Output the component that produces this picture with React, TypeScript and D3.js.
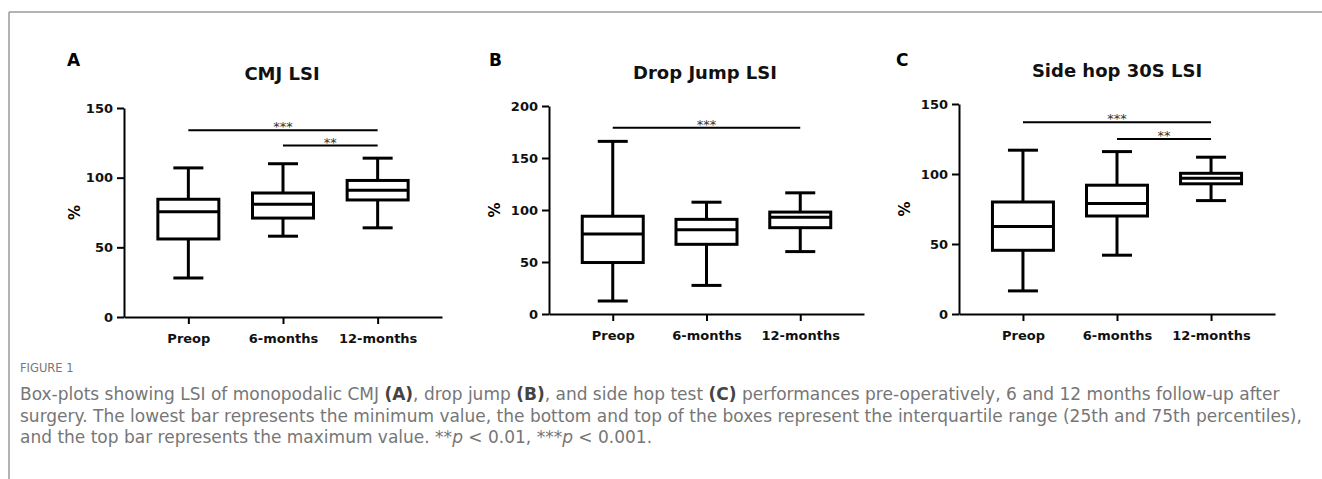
import React from 'react';
import * as d3 from 'd3';

const groups = ['Preop', '6-months', '12-months'];

// CMJ LSI (%)
const cmjMin = [28, 58, 64];
const cmjQ1 = [56, 71, 84];
const cmjMedian = [75.5, 81, 91];
const cmjQ3 = [84.5, 89, 98];
const cmjMax = [107, 110, 114];

// Drop jump LSI (%)
const dropMin = [12.5, 27.5, 60];
const dropQ1 = [49.5, 67, 83];
const dropMedian = [77, 81, 93];
const dropQ3 = [94, 91, 98];
const dropMax = [166, 107.5, 116.5];

// Side hop 30S LSI (%)
const hopMin = [16.5, 42, 81];
const hopQ1 = [45.5, 70, 93];
const hopMedian = [62.5, 79, 97];
const hopQ3 = [80, 92, 100.5];
const hopMax = [117, 116, 112];

type Sig = { from: number; to: number; value: number; label: string };

const cmjSig: Sig[] = [
  { from: 0, to: 2, value: 134, label: '***' },
  { from: 1, to: 2, value: 123, label: '**' },
];
const dropSig: Sig[] = [{ from: 0, to: 2, value: 179, label: '***' }];
const hopSig: Sig[] = [
  { from: 0, to: 2, value: 137, label: '***' },
  { from: 1, to: 2, value: 125, label: '**' },
];

type Panel = {
  letter: string;
  title: string;
  yMax: number;
  min: number[];
  q1: number[];
  median: number[];
  q3: number[];
  max: number[];
  sig: Sig[];
  // layout
  left: number;
  right: number;
  top: number;
  bottom: number;
  letterX: number;
  titleX: number;
  titleY: number;
  pctX: number;
};

const panels: Panel[] = [
  {
    letter: 'A', title: 'CMJ LSI', yMax: 150,
    min: cmjMin, q1: cmjQ1, median: cmjMedian, q3: cmjQ3, max: cmjMax, sig: cmjSig,
    left: 124, right: 442, top: 108, bottom: 317, letterX: 67, titleX: 282, titleY: 80, pctX: 75,
  },
  {
    letter: 'B', title: 'Drop Jump LSI', yMax: 200,
    min: dropMin, q1: dropQ1, median: dropMedian, q3: dropQ3, max: dropMax, sig: dropSig,
    left: 549, right: 864, top: 106, bottom: 314, letterX: 489, titleX: 705, titleY: 79, pctX: 495,
  },
  {
    letter: 'C', title: 'Side hop 30S LSI', yMax: 150,
    min: hopMin, q1: hopQ1, median: hopMedian, q3: hopQ3, max: hopMax, sig: hopSig,
    left: 959, right: 1275, top: 104, bottom: 314, letterX: 896, titleX: 1117, titleY: 77, pctX: 905,
  },
];

const FONT = '"DejaVu Sans", Arial, sans-serif';

function drawPanel(g: d3.Selection<SVGGElement, unknown, null, undefined>, p: Panel) {
  const y = d3.scaleLinear([0, p.yMax], [p.bottom, p.top]);
  const x = d3.scalePoint<string>(groups, [p.left, p.right]).padding(0.68);

  g.append('text')
    .attr('x', p.letterX)
    .attr('y', 66)
    .attr('font-family', FONT)
    .attr('font-weight', 'bold')
    .attr('font-size', 17)
    .text(p.letter);

  g.append('text')
    .attr('x', p.titleX)
    .attr('y', p.titleY)
    .attr('text-anchor', 'middle')
    .attr('font-family', FONT)
    .attr('font-weight', 'bold')
    .attr('font-size', 18)
    .attr('fill', '#111')
    .text(p.title);

  g.append('text')
    .attr('transform', `translate(${p.pctX},${(p.top + p.bottom) / 2}) rotate(-90)`)
    .attr('text-anchor', 'middle')
    .attr('dominant-baseline', 'central')
    .attr('font-family', FONT)
    .attr('font-weight', 'bold')
    .attr('font-size', 15)
    .text('%');

  const yAxis = d3
    .axisLeft(y)
    .tickValues(d3.range(0, p.yMax + 1, 50))
    .tickSize(7)
    .tickSizeOuter(0)
    .tickPadding(4);
  const xAxis = d3.axisBottom(x).tickSize(7).tickSizeOuter(0).tickPadding(10);

  const ya = g.append('g').attr('transform', `translate(${p.left},0)`).call(yAxis);
  const xa = g.append('g').attr('transform', `translate(0,${p.bottom})`).call(xAxis);

  [ya, xa].forEach((a) => {
    a.select('.domain').attr('stroke', '#000').attr('stroke-width', 2);
    a.selectAll('.tick line').attr('stroke', '#000').attr('stroke-width', 2);
    a.selectAll('.tick text')
      .attr('font-family', FONT)
      .attr('font-weight', 'bold')
      .attr('font-size', 13)
      .attr('fill', '#111');
  });

  const boxW = 61;
  const capW = 30;
  const boxes = g
    .append('g')
    .selectAll('g')
    .data(groups)
    .enter()
    .append('g')
    .attr('stroke', '#000')
    .attr('stroke-width', 3)
    .attr('fill', 'none');

  boxes.each(function (d, i) {
    const b = d3.select(this);
    const cx = x(d) as number;
    // whiskers
    b.append('line').attr('x1', cx).attr('x2', cx).attr('y1', y(p.q3[i])).attr('y2', y(p.max[i]));
    b.append('line').attr('x1', cx).attr('x2', cx).attr('y1', y(p.q1[i])).attr('y2', y(p.min[i]));
    b.append('line').attr('x1', cx - capW / 2).attr('x2', cx + capW / 2).attr('y1', y(p.max[i])).attr('y2', y(p.max[i]));
    b.append('line').attr('x1', cx - capW / 2).attr('x2', cx + capW / 2).attr('y1', y(p.min[i])).attr('y2', y(p.min[i]));
    b.append('rect')
      .attr('x', cx - boxW / 2)
      .attr('width', boxW)
      .attr('y', y(p.q3[i]))
      .attr('height', y(p.q1[i]) - y(p.q3[i]))
      .attr('fill', '#fff');
    b.append('line')
      .attr('x1', cx - boxW / 2)
      .attr('x2', cx + boxW / 2)
      .attr('y1', y(p.median[i]))
      .attr('y2', y(p.median[i]));
  });

  // significance brackets
  const sig = g.append('g').selectAll('g').data(p.sig).enter().append('g');
  sig
    .append('line')
    .attr('x1', (s) => x(groups[s.from]) as number)
    .attr('x2', (s) => x(groups[s.to]) as number)
    .attr('y1', (s) => y(s.value))
    .attr('y2', (s) => y(s.value))
    .attr('stroke', '#000')
    .attr('stroke-width', 2);
  sig
    .append('text')
    .attr('x', (s) => (((x(groups[s.from]) as number) + (x(groups[s.to]) as number)) / 2))
    .attr('y', (s) => y(s.value) + 1)
    .attr('text-anchor', 'middle')
    .attr('font-family', FONT)
    .attr('font-size', 13)
    .attr('fill', '#333')
    .text((s) => s.label);
}

export default function App() {
  const ref = React.useRef<SVGSVGElement>(null);

  React.useEffect(() => {
    const svg = d3.select(ref.current);
    svg.selectAll('g.panel').remove();
    panels.forEach((p) => {
      const g = svg.append('g').attr('class', 'panel') as any;
      drawPanel(g, p);
    });
  }, []);

  const cap = {
    fontFamily: '"DejaVu Sans", sans-serif',
    fontSize: 17,
    fontWeight: 400,
    fill: '#767676',
  };
  const b = { fontWeight: 'bold' as const, fill: '#444' };

  return (
    <svg
      ref={ref}
      width={1322}
      height={479}
      style={{ position: 'absolute', left: 0, top: 0, background: '#fff' }}
    >
      <line x1={9} x2={1322} y1={12} y2={12} stroke="#9a9a9a" strokeWidth={1.5} />
      <line x1={9} x2={9} y1={12} y2={479} stroke="#9a9a9a" strokeWidth={1.5} />
      <text x={20} y={372} style={{ ...cap, fontSize: 11.5, fill: '#777' }}>
        FIGURE 1
      </text>
      <text x={20} y={400} style={cap}>
        Box-plots showing LSI of monopodalic CMJ <tspan style={b}>(A)</tspan>, drop jump{' '}
        <tspan style={b}>(B)</tspan>, and side hop test <tspan style={b}>(C)</tspan> performances
        pre-operatively, 6 and 12 months follow-up after
      </text>
      <text x={20} y={422} style={cap}>
        surgery. The lowest bar represents the minimum value, the bottom and top of the boxes
        represent the interquartile range (25th and 75th percentiles),
      </text>
      <text x={20} y={443} style={cap}>
        and the top bar represents the maximum value. **<tspan fontStyle="italic">p</tspan> &lt; 0.01, ***
        <tspan fontStyle="italic">p</tspan> &lt; 0.001.
      </text>
    </svg>
  );
}
